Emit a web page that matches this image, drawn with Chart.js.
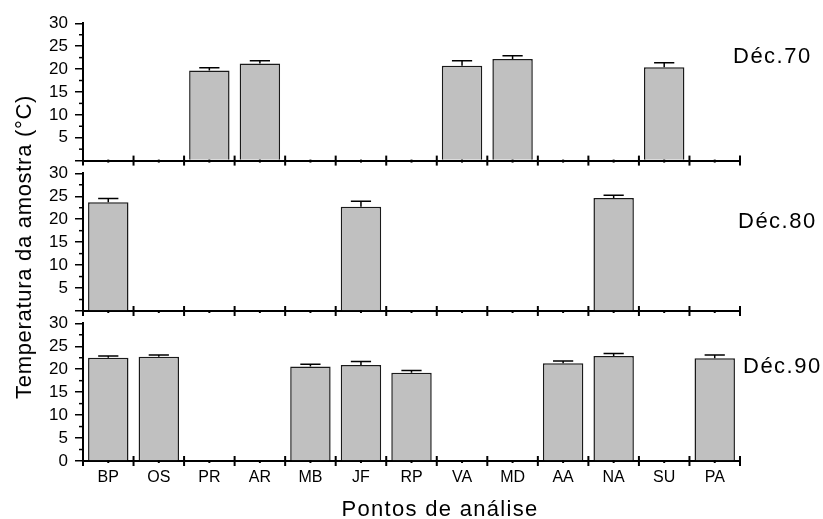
<!DOCTYPE html>
<html>
<head>
<meta charset="utf-8">
<script src="https://cdn.jsdelivr.net/npm/chart.js@4.4.0/dist/chart.umd.min.js"></script>
<style>
  body { margin: 0; background: #fff; }
  #wrap { position: relative; width: 823px; height: 519px; font-family: 'Liberation Sans', Arial, sans-serif; color: #000; }
  #wrap canvas { position: absolute; left: 0; top: 0; }
  .txt { position: absolute; white-space: nowrap; line-height: 1; }
  #ytitle { left: 24px; top: 247px; font-size: 22px; letter-spacing: 0.7px; transform: translate(-50%, -50%) rotate(-90deg); }
  #xtitle { left: 440px; top: 509px; font-size: 22px; letter-spacing: 1.3px; transform: translate(-50%, -50%); }
  .dec { font-size: 22px; letter-spacing: 1.5px; transform: translateY(-50%); }
</style>
</head>
<body>
<div id="wrap">
  <canvas id="c70" width="823" height="519"></canvas>
  <canvas id="c80" width="823" height="519"></canvas>
  <canvas id="c90" width="823" height="519"></canvas>
  <div class="txt" id="ytitle">Temperatura da amostra (°C)</div>
  <div class="txt" id="xtitle">Pontos de análise</div>
  <div class="txt dec" style="left:733px;top:56px">Déc.70</div>
  <div class="txt dec" style="left:738px;top:221px">Déc.80</div>
  <div class="txt dec" style="left:743px;top:366px">Déc.90</div>
</div>
<script>
const pontos = ['BP', 'OS', 'PR', 'AR', 'MB', 'JF', 'RP', 'VA', 'MD', 'AA', 'NA', 'SU', 'PA'];

const dec70 = [null, null, 19.7, 21.2, null, null, null, 20.7, 22.2, null, null, 20.4, null];
const err70 = [null, null, 0.6, 0.6, null, null, null, 1.1, 0.7, null, null, 1.0, null];

const dec80 = [23.7, null, null, null, null, 22.7, null, null, null, null, 24.6, null, null];
const err80 = [0.8, null, null, null, null, 1.2, null, null, null, null, 0.6, null, null];

const dec90 = [22.5, 22.7, null, null, 20.6, 20.9, 19.2, null, null, 21.3, 22.9, null, 22.4];
const err90 = [0.4, 0.4, null, null, 0.5, 0.8, 0.5, null, null, 0.5, 0.5, null, 0.7];

const yTicks = [0, 5, 10, 15, 20, 25, 30];

Chart.defaults.font.family = "'Liberation Sans', Arial, sans-serif";
Chart.defaults.color = '#000';

// minor y ticks and x ticks that cross the axis line
const axisMarks = {
    id: 'axisMarks',
    afterDraw(chart) {
        const { ctx, scales: { x, y } } = chart;
        const seg = (x1, y1, x2, y2) => { ctx.beginPath(); ctx.moveTo(x1, y1); ctx.lineTo(x2, y2); ctx.stroke(); };
        ctx.save();
        ctx.strokeStyle = '#000';
        ctx.lineWidth = 1.5;
        for (let i = 0; i < yTicks.length - 1; i++) {
            const py = y.getPixelForValue((yTicks[i] + yTicks[i + 1]) / 2);
            seg(x.left - 4, py, x.left, py);
        }
        const base = y.bottom;
        ctx.lineWidth = 2;
        for (let i = 0; i <= pontos.length; i++) {
            const px = x.getPixelForValue(i - 0.5);
            seg(px, base - 5, px, base + 5);
        }
        for (let i = 0; i < pontos.length; i++) {
            const px = x.getPixelForValue(i);
            seg(px, base - 1, px, base + 2);
        }
        ctx.restore();
    }
};

// upper error bars
const errorBars = {
    id: 'errorBars',
    afterDatasetsDraw(chart, args, opts) {
        const { ctx, scales: { y } } = chart;
        const ds = chart.data.datasets[0];
        const meta = chart.getDatasetMeta(0);
        ctx.save();
        ctx.strokeStyle = '#000';
        ctx.lineWidth = 1.5;
        meta.data.forEach((bar, i) => {
            const v = ds.data[i];
            if (v === null) return;
            const top = y.getPixelForValue(v + opts.errors[i]);
            const half = bar.width / 4;
            ctx.beginPath();
            ctx.moveTo(bar.x, bar.y);
            ctx.lineTo(bar.x, top);
            ctx.moveTo(bar.x - half, top);
            ctx.lineTo(bar.x + half, top);
            ctx.stroke();
        });
        ctx.restore();
    }
};

function makePanel(id, values, errors, top, bottom, showLabels) {
    const xHeight = 24;
    return new Chart(id, {
        type: 'bar',
        data: {
            labels: pontos,
            datasets: [{
                data: values,
                backgroundColor: '#c0c0c0',
                borderColor: '#1a1a1a',
                borderWidth: 1.5,
                barPercentage: 0.8,
                categoryPercentage: 1.0
            }]
        },
        options: {
            responsive: false,
            animation: false,
            devicePixelRatio: 1,
            layout: {
                padding: { left: 0, right: 83, top: top, bottom: 519 - bottom - xHeight }
            },
            plugins: {
                legend: { display: false },
                tooltip: { enabled: false },
                errorBars: { errors: errors }
            },
            scales: {
                x: {
                    z: 1,
                    grid: { display: false, drawTicks: false },
                    border: { display: true, color: '#000', width: 2 },
                    ticks: { display: showLabels, autoSkip: false, maxRotation: 0, padding: 7, font: { size: 16 }, color: '#000' },
                    afterFit(s) { s.height = xHeight; }
                },
                y: {
                    z: 1,
                    min: 0,
                    max: 30,
                    grid: { drawOnChartArea: false, tickLength: 8, color: '#000', lineWidth: 1.5 },
                    border: { display: true, color: '#000', width: 2 },
                    ticks: {
                        stepSize: 5,
                        autoSkip: false,
                        padding: 7,
                        font: { size: 17 },
                        color: '#000',
                        callback: v => (v === 0 && !showLabels) ? '' : v
                    },
                    afterFit(s) { s.width = 83; }
                }
            }
        },
        plugins: [axisMarks, errorBars]
    });
}

makePanel('c70', dec70, err70, 23.3, 160.6, false);
makePanel('c80', dec80, err80, 173.3, 311, false);
makePanel('c90', dec90, err90, 323.3, 461, true);
</script>
</body>
</html>
